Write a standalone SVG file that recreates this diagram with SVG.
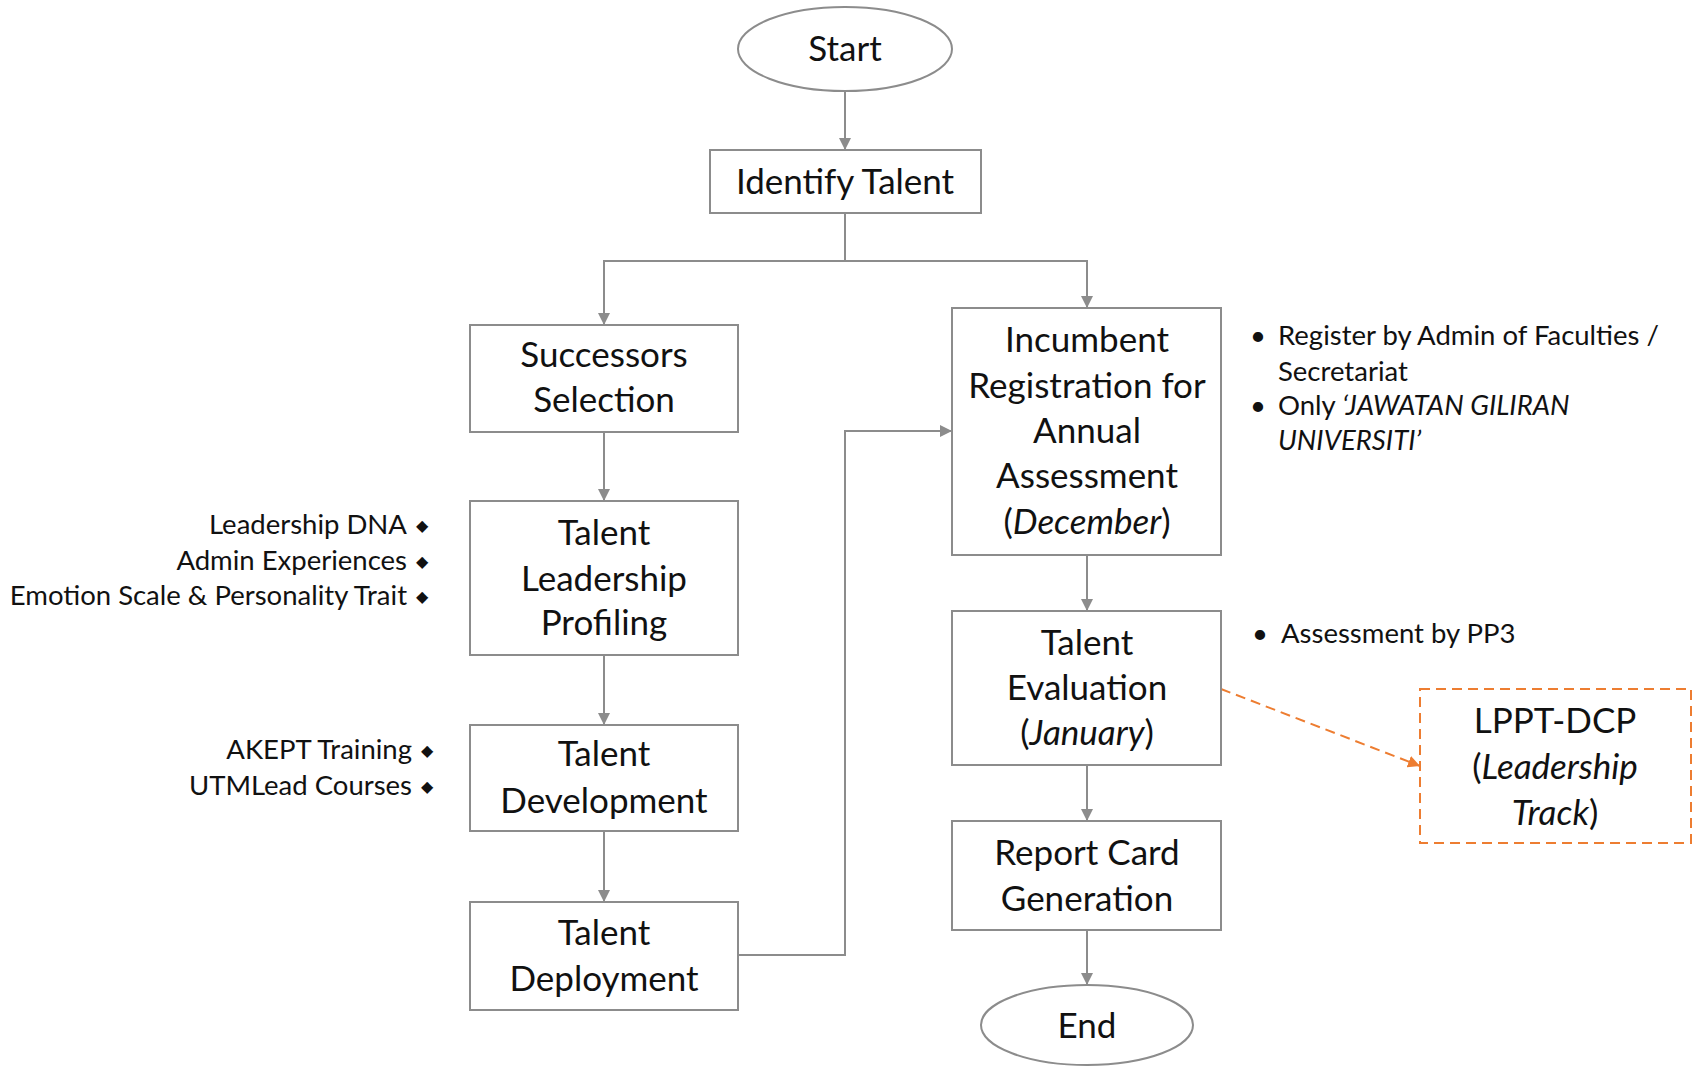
<svg xmlns="http://www.w3.org/2000/svg" width="1697" height="1066" viewBox="0 0 1697 1066">
<style>
.box{fill:#fff;stroke:#8c8c8c;stroke-width:2}
.t{font-family:Lato,"Liberation Sans",sans-serif;font-size:35px;fill:#111;text-anchor:middle}
.s{font-family:Lato,"Liberation Sans",sans-serif;font-size:27.5px;fill:#111}
.r{text-anchor:end}
.c{fill:none;stroke:#8c8c8c;stroke-width:2}
.d{fill:none;stroke:#ED7D31;stroke-width:2;stroke-dasharray:10 6}
.b{font-family:"DejaVu Sans",sans-serif;font-size:16px;fill:#111}
</style>
<defs>
<marker id="ah" viewBox="0 0 10 10" refX="10" refY="5" markerWidth="6" markerHeight="6" orient="auto" markerUnits="strokeWidth"><path d="M0,0 L10,5 L0,10 z" fill="#8c8c8c"/></marker>
<marker id="ao" viewBox="0 0 10 10" refX="10" refY="5" markerWidth="6" markerHeight="6" orient="auto" markerUnits="strokeWidth"><path d="M0,0 L10,5 L0,10 z" fill="#ED7D31"/></marker>
</defs>
<g id="connectors">
<path class="c" d="M845,91 V150" marker-end="url(#ah)"/>
<path class="c" d="M845,213 V261 H604 V325" marker-end="url(#ah)"/>
<path class="c" d="M845,261 H1087 V308" marker-end="url(#ah)"/>
<path class="c" d="M604,432 V501" marker-end="url(#ah)"/>
<path class="c" d="M604,655 V725" marker-end="url(#ah)"/>
<path class="c" d="M604,831 V902" marker-end="url(#ah)"/>
<path class="c" d="M738,955 H845 V431 H952" marker-end="url(#ah)"/>
<path class="c" d="M1087,555 V611" marker-end="url(#ah)"/>
<path class="c" d="M1087,765 V821" marker-end="url(#ah)"/>
<path class="c" d="M1087,930 V985" marker-end="url(#ah)"/>
<path class="d" d="M1221,689 L1420,766" marker-end="url(#ao)"/>
</g>
<g id="start"><ellipse class="box" cx="845" cy="49" rx="107" ry="42"/><text class="t" x="845" y="61">Start</text></g>
<g id="identify"><rect class="box" x="710" y="150" width="271" height="63"/><text class="t" x="845" y="194">Identify Talent</text></g>
<g id="successors"><rect class="box" x="470" y="325" width="268" height="107"/><text class="t" x="604" y="367">Successors</text><text class="t" x="604" y="412">Selection</text></g>
<g id="profiling"><rect class="box" x="470" y="501" width="268" height="154"/><text class="t" x="604" y="545">Talent</text><text class="t" x="604" y="591">Leadership</text><text class="t" x="604" y="635">Profiling</text></g>
<g id="development"><rect class="box" x="470" y="725" width="268" height="106"/><text class="t" x="604" y="766">Talent</text><text class="t" x="604" y="813">Development</text></g>
<g id="deployment"><rect class="box" x="470" y="902" width="268" height="108"/><text class="t" x="604" y="945">Talent</text><text class="t" x="604" y="991">Deployment</text></g>
<g id="incumbent"><rect class="box" x="952" y="308" width="269" height="247"/><text class="t" x="1087" y="352">Incumbent</text><text class="t" x="1087" y="398">Registration for</text><text class="t" x="1087" y="443">Annual</text><text class="t" x="1087" y="488">Assessment</text><text class="t" x="1087" y="534">(<tspan font-style="italic">December</tspan>)</text></g>
<g id="evaluation"><rect class="box" x="952" y="611" width="269" height="154"/><text class="t" x="1087" y="655">Talent</text><text class="t" x="1087" y="700">Evaluation</text><text class="t" x="1087" y="745">(<tspan font-style="italic">January</tspan>)</text></g>
<g id="report"><rect class="box" x="952" y="821" width="269" height="109"/><text class="t" x="1087" y="865">Report Card</text><text class="t" x="1087" y="911">Generation</text></g>
<g id="end"><ellipse class="box" cx="1087" cy="1025" rx="106" ry="40"/><text class="t" x="1087" y="1038">End</text></g>
<g id="lppt"><rect x="1420" y="689" width="271" height="154" fill="#fff" stroke="#ED7D31" stroke-width="2" stroke-dasharray="10 6"/><text class="t" x="1555" y="733">LPPT-DCP</text><text class="t" x="1555" y="779">(<tspan font-style="italic">Leadership</tspan></text><text class="t" x="1555" y="825"><tspan font-style="italic">Track</tspan>)</text></g>
<g id="profiling-notes">
<text class="s r" x="407" y="534">Leadership DNA</text><text class="b" x="416" y="531">◆</text>
<text class="s r" x="407" y="570">Admin Experiences</text><text class="b" x="416" y="567">◆</text>
<text class="s r" x="407" y="605">Emotion Scale &amp; Personality Trait</text><text class="b" x="416" y="602">◆</text>
</g>
<g id="development-notes">
<text class="s r" x="412" y="759">AKEPT Training</text><text class="b" x="421" y="756">◆</text>
<text class="s r" x="412" y="795">UTMLead Courses</text><text class="b" x="421" y="792">◆</text>
</g>
<g id="incumbent-notes">
<text class="s" x="1250" y="345">•</text><text class="s" x="1278" y="345">Register by Admin of Faculties /</text>
<text class="s" x="1278" y="381">Secretariat</text>
<text class="s" x="1250" y="415">•</text><text class="s" x="1278" y="415">Only <tspan font-style="italic">‘JAWATAN GILIRAN</tspan></text>
<text class="s" x="1278" y="450" font-style="italic">UNIVERSITI’</text>
</g>
<g id="evaluation-notes">
<text class="s" x="1252" y="643">•</text><text class="s" x="1281" y="643">Assessment by PP3</text>
</g>
</svg>
